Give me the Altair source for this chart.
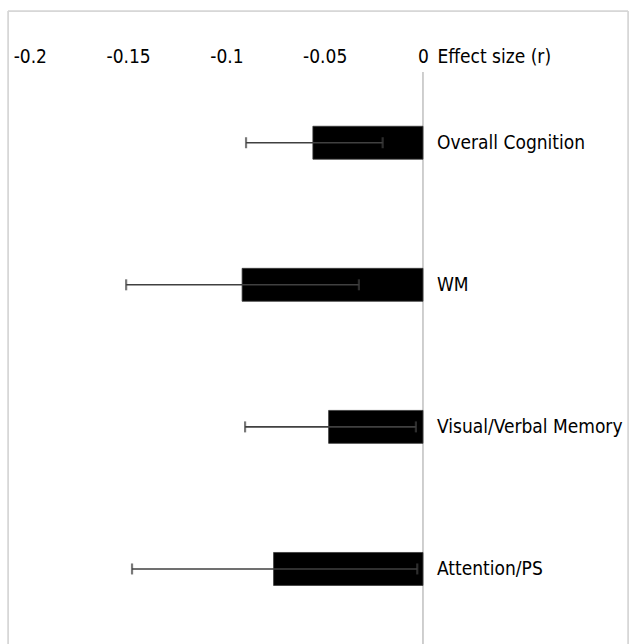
import altair as alt
import pandas as pd

categories = ["Overall Cognition", "WM", "Visual/Verbal Memory", "Attention/PS"]
effect = [-0.056, -0.092, -0.048, -0.076]
ci_low = [-0.090, -0.151, -0.0905, -0.148]
ci_high = [-0.0205, -0.0326, -0.0036, -0.0029]
tick_values = [-0.2, -0.15, -0.1, -0.05, 0]

df = pd.DataFrame({
    "cat": categories,
    "effect": effect,
    "lo": ci_low,
    "hi": ci_high,
    "base": [0] * len(categories),
})

W, H = 620, 633
FONT = "DejaVu Sans Condensed, Liberation Sans, sans-serif"
FS = 19

xscale = alt.Scale(domain=[-0.2111, 0.1043], nice=False, zero=False)
yscale = alt.Scale(domain=categories, range=[60.7, 629], paddingInner=0.768, paddingOuter=0.384)

xaxis = alt.Axis(
    orient="top", values=tick_values, labelExpr="'' + datum.value",
    domain=False, ticks=False, tickSize=0, grid=False, offset=-45,
    labelPadding=0, labelBaseline="middle", labelFontSize=FS, labelFont=FONT,
    labelColor="#000000", labelFlush=False, labelOverlap=False,
    title="Effect size (r)", titleX=429, titleY=0, titleAlign="left",
    titleBaseline="middle", titleAngle=0, titleFontSize=FS, titleFont=FONT,
    titleFontWeight="normal", titleColor="#000000",
)

base = alt.Chart(df)

bars = base.mark_bar(color="#000000", stroke="#3a3a3a", strokeWidth=0.8).encode(
    x=alt.X("effect:Q", scale=xscale, axis=xaxis),
    x2="base:Q",
    y=alt.Y("cat:N", scale=yscale, axis=None, sort=categories),
)

err = base.mark_rule(color="#404040", strokeWidth=1.6).encode(
    x="lo:Q", x2="hi:Q",
    y=alt.Y("cat:N", scale=yscale, axis=None, sort=categories),
)

cap_lo = base.mark_tick(color="#404040", thickness=2.2, size=11, orient="vertical").encode(
    x="lo:Q",
    y=alt.Y("cat:N", scale=yscale, axis=None, sort=categories),
)
cap_hi = base.mark_tick(color="#404040", thickness=2.2, size=11, orient="vertical").encode(
    x="hi:Q",
    y=alt.Y("cat:N", scale=yscale, axis=None, sort=categories),
)

labels = base.mark_text(align="left", baseline="middle", dx=14, fontSize=FS,
                        font=FONT, color="#000000").encode(
    x="base:Q",
    y=alt.Y("cat:N", scale=yscale, axis=None, sort=categories),
    text="cat:N",
)

zero_line = alt.Chart(pd.DataFrame({"z": [0]})).mark_rule(color="#bfbfbf", strokeWidth=1.5).encode(
    x="z:Q", y=alt.value(61), y2=alt.value(H),
)

frame_l = alt.Chart(pd.DataFrame({"a": [0]})).mark_rule(color="#d4d4d4", strokeWidth=1.5).encode(
    x=alt.value(0), y=alt.value(0), y2=alt.value(H))
frame_t = alt.Chart(pd.DataFrame({"a": [0]})).mark_rule(color="#d4d4d4", strokeWidth=1.5).encode(
    x=alt.value(0), x2=alt.value(W), y=alt.value(0))
frame_r = alt.Chart(pd.DataFrame({"a": [0]})).mark_rule(color="#d4d4d4", strokeWidth=1.5).encode(
    x=alt.value(W), y=alt.value(0), y2=alt.value(H))

chart = alt.layer(
    frame_l, frame_t, frame_r, zero_line, bars, err, cap_lo, cap_hi, labels
).properties(
    width=W, height=H,
    autosize=alt.AutoSizeParams(type="none"),
    padding={"left": 8, "top": 11, "right": 2, "bottom": 0},
).configure_view(stroke=None).configure(background="#ffffff")

chart.save("out.html", embed_options={"renderer": "svg", "actions": False})
